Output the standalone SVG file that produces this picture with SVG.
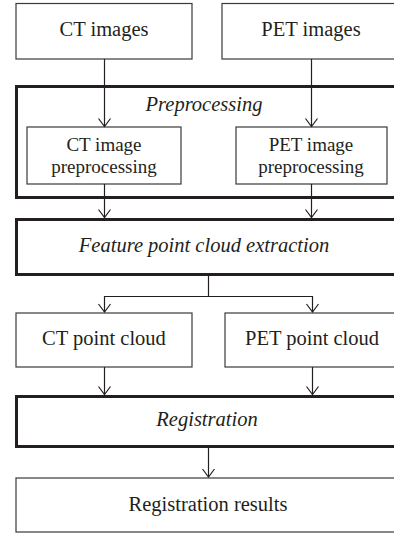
<svg xmlns="http://www.w3.org/2000/svg" width="394" height="533" viewBox="0 0 394 533">
<defs>
<marker id="ah" markerWidth="10" markerHeight="14" refX="9" refY="7" orient="auto" markerUnits="userSpaceOnUse" viewBox="0 0 10 14">
<path d="M1,1 L9,7 L1,13" fill="none" stroke="#231f20" stroke-width="1.2"/>
</marker>
</defs>
<style>
.thin{fill:#fff;stroke:#3a3a3a;stroke-width:1.2}
.thick{fill:none;stroke:#231f20;stroke-width:3}
.t{font-size:20.5px;fill:#231f20;text-anchor:middle}
.s{font-size:19px}
.i{font-style:italic}
.c{fill:none;stroke:#231f20;stroke-width:1.2}
</style>
<rect width="394" height="533" fill="#fff"/>
<g font-family="'Liberation Serif', 'DejaVu Serif', serif">
<g id="ct-images"><rect class="thin" x="16" y="3.5" width="176" height="55.5"/><text class="t" x="104" y="36">CT images</text></g>
<g id="pet-images"><rect class="thin" x="222" y="3.5" width="180" height="55.5"/><text class="t" x="311" y="36">PET images</text></g>
<g id="preprocessing"><rect class="thick" x="16.5" y="86.5" width="390" height="111"/><text class="t i" x="204" y="111">Preprocessing</text></g>
<g id="ct-prep"><rect class="thin" x="27" y="127" width="154" height="57"/><text class="t s" x="104" y="151">CT image</text><text class="t s" x="104" y="173">preprocessing</text></g>
<g id="pet-prep"><rect class="thin" x="236" y="127" width="151" height="57"/><text class="t s" x="311" y="151">PET image</text><text class="t s" x="311" y="173">preprocessing</text></g>
<g id="feature"><rect class="thick" x="16.5" y="219.5" width="390" height="55"/><text class="t i" x="204" y="252">Feature point cloud extraction</text></g>
<g id="ct-cloud"><rect class="thin" x="16" y="313" width="176" height="54"/><text class="t" x="104" y="345">CT point cloud</text></g>
<g id="pet-cloud"><rect class="thin" x="225" y="313" width="180" height="54"/><text class="t" x="312" y="345">PET point cloud</text></g>
<g id="registration"><rect class="thick" x="16.5" y="396.5" width="390" height="50"/><text class="t i" x="207" y="426">Registration</text></g>
<g id="results"><rect class="thin" x="16" y="478" width="390" height="54"/><text class="t" x="208" y="511">Registration results</text></g>
</g>
<g id="connectors">
<line class="c" x1="104.5" y1="59" x2="104.5" y2="126.5" marker-end="url(#ah)"/>
<line class="c" x1="311.5" y1="59" x2="311.5" y2="126.5" marker-end="url(#ah)"/>
<line class="c" x1="104.5" y1="184" x2="104.5" y2="217.5" marker-end="url(#ah)"/>
<line class="c" x1="311.5" y1="184" x2="311.5" y2="217.5" marker-end="url(#ah)"/>
<polyline class="c" points="208.5,275 208.5,296.5 104.5,296.5 104.5,312" marker-end="url(#ah)"/>
<polyline class="c" points="208.5,296.5 312.5,296.5 312.5,312" marker-end="url(#ah)"/>
<line class="c" x1="104.5" y1="367" x2="104.5" y2="394.5" marker-end="url(#ah)"/>
<line class="c" x1="312.5" y1="367" x2="312.5" y2="394.5" marker-end="url(#ah)"/>
<line class="c" x1="208.5" y1="448" x2="208.5" y2="477" marker-end="url(#ah)"/>
</g>
</svg>
